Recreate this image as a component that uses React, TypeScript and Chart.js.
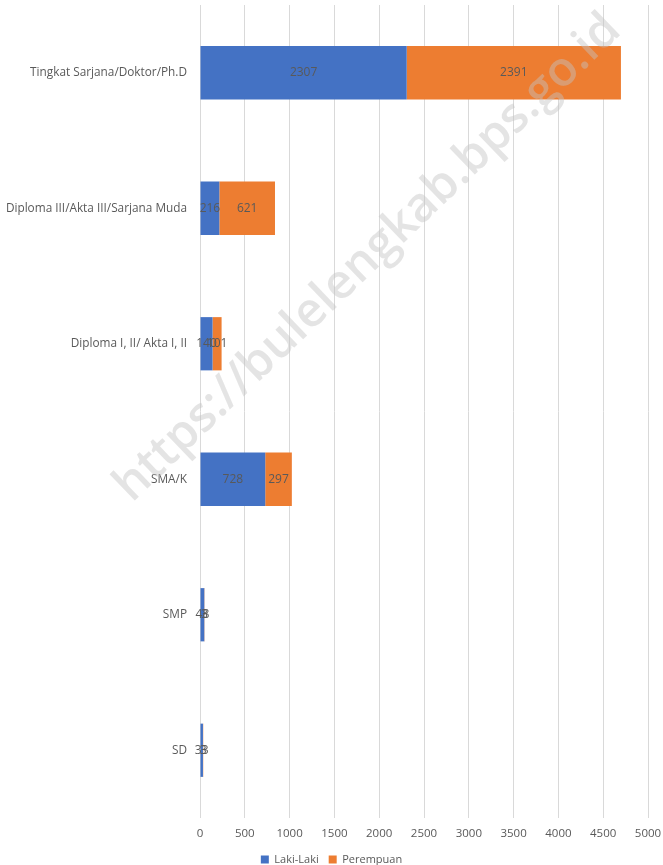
import React, { useEffect, useRef } from "react";
import { Chart, registerables } from "chart.js";

Chart.register(...registerables);

const categories = [
  "Tingkat Sarjana/Doktor/Ph.D",
  "Diploma III/Akta III/Sarjana Muda",
  "Diploma I, II/ Akta I, II",
  "SMA/K",
  "SMP",
  "SD",
];
const lakiLaki = [2307, 216, 140, 728, 48, 33];
const perempuan = [2391, 621, 101, 297, 3, 3];
const xTicks = [0, 500, 1000, 1500, 2000, 2500, 3000, 3500, 4000, 4500, 5000];
const watermark = "https://bulelengkab.bps.go.id";

const FONT = "'Open Sans', 'Noto Sans', sans-serif";

const valueLabels = {
  id: "valueLabels",
  afterDatasetsDraw(chart: any) {
    const ctx = chart.ctx;
    ctx.save();
    ctx.font = `12px ${FONT}`;
    ctx.fillStyle = "#595959";
    ctx.textAlign = "center";
    ctx.textBaseline = "middle";
    chart.data.datasets.forEach((ds: any, i: number) => {
      const meta = chart.getDatasetMeta(i);
      meta.data.forEach((bar: any, j: number) => {
        const cx = (bar.x + bar.base) / 2;
        ctx.fillText(String(ds.data[j]), cx, bar.y);
      });
    });
    ctx.restore();
  },
};

const watermarkPlugin = {
  id: "watermark",
  afterDraw(chart: any) {
    const ctx = chart.ctx;
    ctx.save();
    ctx.translate(368, 258);
    ctx.rotate(-Math.atan2(470, 490));
    ctx.font = `600 40px ${FONT}`;
    const w = ctx.measureText(watermark).width;
    const target = 680;
    ctx.scale(target / w, target / w);
    ctx.fillStyle = "rgba(195,195,195,0.45)";
    ctx.textAlign = "center";
    ctx.textBaseline = "middle";
    ctx.fillText(watermark, 0, 0);
    ctx.restore();
  },
};

export default function App() {
  const ref = useRef<HTMLCanvasElement | null>(null);
  useEffect(() => {
    if (!ref.current) return;
    const chart = new Chart(ref.current, {
      type: "bar",
      data: {
        labels: categories,
        datasets: [
          {
            label: "Laki-Laki",
            data: lakiLaki,
            backgroundColor: "#4472C4",
            barPercentage: 0.393,
            categoryPercentage: 1,
          },
          {
            label: "Perempuan",
            data: perempuan,
            backgroundColor: "#ED7D31",
            barPercentage: 0.393,
            categoryPercentage: 1,
          },
        ],
      },
      options: {
        indexAxis: "y",
        animation: false,
        responsive: false,
        maintainAspectRatio: false,
        layout: { padding: { top: 5, right: 0, bottom: -10, left: 0 } },
        scales: {
          x: {
            stacked: true,
            min: 0,
            max: 5000,
            afterBuildTicks: (scale: any) => {
              scale.ticks = xTicks.map((v) => ({ value: v }));
            },
            grid: {
              color: "#d9d9d9",
              drawTicks: false,
            },
            border: { display: false },
            ticks: {
              color: "#595959",
              font: { size: 11.5, family: FONT },
              padding: 9,
              maxRotation: 0,
              callback: (v: any) => String(v),
            },
            afterFit: (scale: any) => {
              scale.height = 26;
              scale.paddingRight = 15;
              scale.paddingLeft = 0;
            },
          },
          y: {
            stacked: true,
            grid: { display: false },
            border: { display: false },
            ticks: {
              color: "#595959",
              font: { size: 11.8, family: FONT },
              padding: 5,
            },
            afterFit: (scale: any) => {
              scale.width = 200;
              scale.paddingTop = 0;
              scale.paddingBottom = 0;
            },
          },
        },
        plugins: {
          legend: {
            position: "bottom",
            labels: {
              boxWidth: 8,
              boxHeight: 8,
              color: "#595959",
              font: { size: 11, family: FONT },
              padding: 10,
            },
          },
          tooltip: { enabled: false },
        },
      },
      plugins: [valueLabels, watermarkPlugin],
    });
    return () => chart.destroy();
  }, []);
  return (
    <div style={{ position: "fixed", left: 0, top: 0, width: 663, height: 865, background: "#fff" }}>
      <canvas ref={ref} width={663} height={865} style={{ width: 663, height: 865 }} />
    </div>
  );
}
